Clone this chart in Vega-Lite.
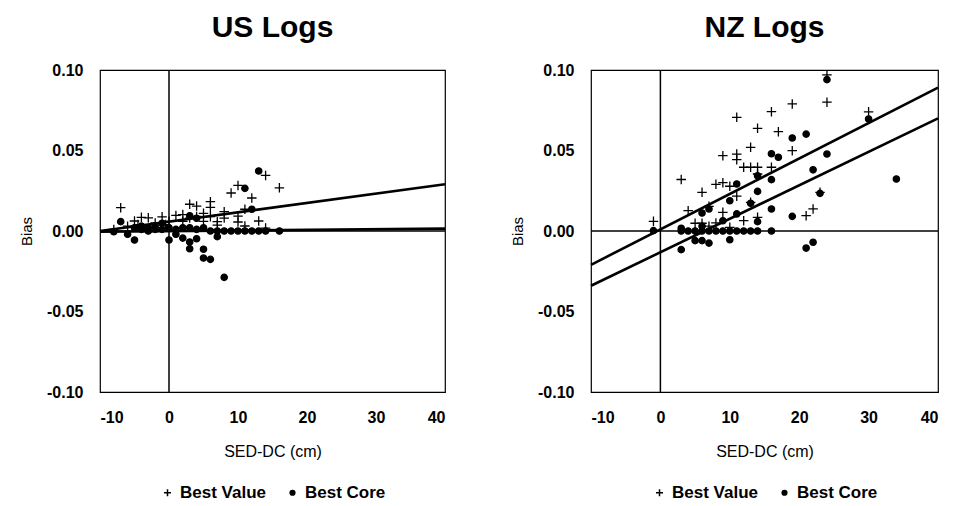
{
  "$schema": "https://vega.github.io/schema/vega-lite/v6.json",
  "background": "white",
  "padding": {"left": 18, "top": 12, "right": 5, "bottom": 5},
  "datasets": {
    "pts": [
      {"panel":"US","series":"Best Value","x":-8,"bias":0.001},
      {"panel":"US","series":"Best Value","x":-7,"bias":0.0145},
      {"panel":"US","series":"Best Value","x":-6,"bias":0.003},
      {"panel":"US","series":"Best Value","x":-5,"bias":0.0062},
      {"panel":"US","series":"Best Value","x":-4.5,"bias":0.004},
      {"panel":"US","series":"Best Value","x":-4,"bias":0.0085},
      {"panel":"US","series":"Best Value","x":-3,"bias":0.0082},
      {"panel":"US","series":"Best Value","x":-2,"bias":0.005},
      {"panel":"US","series":"Best Value","x":-1,"bias":0.0088},
      {"panel":"US","series":"Best Value","x":-0.5,"bias":0.004},
      {"panel":"US","series":"Best Value","x":0,"bias":0.006},
      {"panel":"US","series":"Best Value","x":1,"bias":0.0097},
      {"panel":"US","series":"Best Value","x":2,"bias":0.0102},
      {"panel":"US","series":"Best Value","x":2,"bias":0.006},
      {"panel":"US","series":"Best Value","x":3,"bias":0.0166},
      {"panel":"US","series":"Best Value","x":3,"bias":0.008},
      {"panel":"US","series":"Best Value","x":4,"bias":0.0155},
      {"panel":"US","series":"Best Value","x":4,"bias":0.009},
      {"panel":"US","series":"Best Value","x":5,"bias":0.011},
      {"panel":"US","series":"Best Value","x":5,"bias":0.006},
      {"panel":"US","series":"Best Value","x":6,"bias":0.0182},
      {"panel":"US","series":"Best Value","x":6,"bias":0.0147},
      {"panel":"US","series":"Best Value","x":6,"bias":0.0089},
      {"panel":"US","series":"Best Value","x":7,"bias":0.0058},
      {"panel":"US","series":"Best Value","x":7,"bias":0.0037},
      {"panel":"US","series":"Best Value","x":8,"bias":0.012},
      {"panel":"US","series":"Best Value","x":8,"bias":0.008},
      {"panel":"US","series":"Best Value","x":9,"bias":0.0236},
      {"panel":"US","series":"Best Value","x":10,"bias":0.0283},
      {"panel":"US","series":"Best Value","x":10,"bias":0.0093},
      {"panel":"US","series":"Best Value","x":10,"bias":0.0056},
      {"panel":"US","series":"Best Value","x":11,"bias":0.0135},
      {"panel":"US","series":"Best Value","x":11,"bias":0.0031},
      {"panel":"US","series":"Best Value","x":12,"bias":0.0205},
      {"panel":"US","series":"Best Value","x":13,"bias":0.0062},
      {"panel":"US","series":"Best Value","x":14,"bias":0.0345},
      {"panel":"US","series":"Best Value","x":14,"bias":0.0018},
      {"panel":"US","series":"Best Value","x":16,"bias":0.0268},
      {"panel":"US","series":"Best Core","x":-8,"bias":-0.0005},
      {"panel":"US","series":"Best Core","x":-7,"bias":0.0058},
      {"panel":"US","series":"Best Core","x":-6,"bias":-0.002},
      {"panel":"US","series":"Best Core","x":-5,"bias":-0.0056},
      {"panel":"US","series":"Best Core","x":-5,"bias":0.002},
      {"panel":"US","series":"Best Core","x":-4,"bias":0.001},
      {"panel":"US","series":"Best Core","x":-4,"bias":0.003},
      {"panel":"US","series":"Best Core","x":-3,"bias":0.002},
      {"panel":"US","series":"Best Core","x":-3,"bias":0},
      {"panel":"US","series":"Best Core","x":-2,"bias":0.001},
      {"panel":"US","series":"Best Core","x":-2,"bias":0.003},
      {"panel":"US","series":"Best Core","x":-1,"bias":0.0048},
      {"panel":"US","series":"Best Core","x":-1,"bias":0.001},
      {"panel":"US","series":"Best Core","x":0,"bias":-0.0056},
      {"panel":"US","series":"Best Core","x":0,"bias":0.002},
      {"panel":"US","series":"Best Core","x":1,"bias":0.001},
      {"panel":"US","series":"Best Core","x":1,"bias":-0.002},
      {"panel":"US","series":"Best Core","x":2,"bias":-0.0044},
      {"panel":"US","series":"Best Core","x":2,"bias":0.002},
      {"panel":"US","series":"Best Core","x":3,"bias":0.0095},
      {"panel":"US","series":"Best Core","x":3,"bias":-0.0068},
      {"panel":"US","series":"Best Core","x":3,"bias":-0.011},
      {"panel":"US","series":"Best Core","x":3,"bias":0.002},
      {"panel":"US","series":"Best Core","x":4,"bias":-0.0048},
      {"panel":"US","series":"Best Core","x":4,"bias":0.0079},
      {"panel":"US","series":"Best Core","x":4,"bias":0.001},
      {"panel":"US","series":"Best Core","x":5,"bias":-0.0113},
      {"panel":"US","series":"Best Core","x":5,"bias":-0.0168},
      {"panel":"US","series":"Best Core","x":5,"bias":0.002},
      {"panel":"US","series":"Best Core","x":6,"bias":-0.0176},
      {"panel":"US","series":"Best Core","x":6,"bias":0},
      {"panel":"US","series":"Best Core","x":7,"bias":0},
      {"panel":"US","series":"Best Core","x":7,"bias":-0.0035},
      {"panel":"US","series":"Best Core","x":8,"bias":-0.0288},
      {"panel":"US","series":"Best Core","x":8,"bias":0},
      {"panel":"US","series":"Best Core","x":9,"bias":0},
      {"panel":"US","series":"Best Core","x":10,"bias":0},
      {"panel":"US","series":"Best Core","x":11,"bias":0.0265},
      {"panel":"US","series":"Best Core","x":11,"bias":0},
      {"panel":"US","series":"Best Core","x":12,"bias":0.0135},
      {"panel":"US","series":"Best Core","x":12,"bias":0},
      {"panel":"US","series":"Best Core","x":13,"bias":0.0373},
      {"panel":"US","series":"Best Core","x":13,"bias":0},
      {"panel":"US","series":"Best Core","x":14,"bias":0},
      {"panel":"US","series":"Best Core","x":16,"bias":0},
      {"panel":"NZ","series":"Best Value","x":-1,"bias":0.006},
      {"panel":"NZ","series":"Best Value","x":3,"bias":0.032},
      {"panel":"NZ","series":"Best Value","x":4,"bias":0.0126},
      {"panel":"NZ","series":"Best Value","x":5,"bias":0.0048},
      {"panel":"NZ","series":"Best Value","x":6,"bias":0.024},
      {"panel":"NZ","series":"Best Value","x":6,"bias":0.0048},
      {"panel":"NZ","series":"Best Value","x":7,"bias":0.0153},
      {"panel":"NZ","series":"Best Value","x":7,"bias":0.003},
      {"panel":"NZ","series":"Best Value","x":8,"bias":0.029},
      {"panel":"NZ","series":"Best Value","x":8,"bias":0.005},
      {"panel":"NZ","series":"Best Value","x":9,"bias":0.030},
      {"panel":"NZ","series":"Best Value","x":9,"bias":0.0468},
      {"panel":"NZ","series":"Best Value","x":9,"bias":0.0116},
      {"panel":"NZ","series":"Best Value","x":10,"bias":0.0278},
      {"panel":"NZ","series":"Best Value","x":10,"bias":0.0023},
      {"panel":"NZ","series":"Best Value","x":11,"bias":0.0478},
      {"panel":"NZ","series":"Best Value","x":11,"bias":0.0443},
      {"panel":"NZ","series":"Best Value","x":11,"bias":0.0706},
      {"panel":"NZ","series":"Best Value","x":11,"bias":0.0216},
      {"panel":"NZ","series":"Best Value","x":12,"bias":0.0396},
      {"panel":"NZ","series":"Best Value","x":12,"bias":0.0064},
      {"panel":"NZ","series":"Best Value","x":13,"bias":0.052},
      {"panel":"NZ","series":"Best Value","x":13,"bias":0.0396},
      {"panel":"NZ","series":"Best Value","x":13,"bias":0.0178},
      {"panel":"NZ","series":"Best Value","x":14,"bias":0.0638},
      {"panel":"NZ","series":"Best Value","x":14,"bias":0.0396},
      {"panel":"NZ","series":"Best Value","x":14,"bias":0.0354},
      {"panel":"NZ","series":"Best Value","x":14,"bias":0.0085},
      {"panel":"NZ","series":"Best Value","x":16,"bias":0.0741},
      {"panel":"NZ","series":"Best Value","x":16,"bias":0.0396},
      {"panel":"NZ","series":"Best Value","x":17,"bias":0.0617},
      {"panel":"NZ","series":"Best Value","x":19,"bias":0.0499},
      {"panel":"NZ","series":"Best Value","x":19,"bias":0.0789},
      {"panel":"NZ","series":"Best Value","x":21,"bias":0.0095},
      {"panel":"NZ","series":"Best Value","x":22,"bias":0.0137},
      {"panel":"NZ","series":"Best Value","x":23,"bias":0.024},
      {"panel":"NZ","series":"Best Value","x":24,"bias":0.08},
      {"panel":"NZ","series":"Best Value","x":24,"bias":0.097},
      {"panel":"NZ","series":"Best Value","x":30,"bias":0.074},
      {"panel":"NZ","series":"Best Core","x":-1,"bias":0.0002},
      {"panel":"NZ","series":"Best Core","x":3,"bias":0.0017},
      {"panel":"NZ","series":"Best Core","x":3,"bias":0},
      {"panel":"NZ","series":"Best Core","x":3,"bias":-0.0116},
      {"panel":"NZ","series":"Best Core","x":4,"bias":0},
      {"panel":"NZ","series":"Best Core","x":5,"bias":0},
      {"panel":"NZ","series":"Best Core","x":5,"bias":-0.006},
      {"panel":"NZ","series":"Best Core","x":6,"bias":-0.006},
      {"panel":"NZ","series":"Best Core","x":6,"bias":0.0112},
      {"panel":"NZ","series":"Best Core","x":6,"bias":0.003},
      {"panel":"NZ","series":"Best Core","x":6,"bias":0},
      {"panel":"NZ","series":"Best Core","x":7,"bias":-0.0075},
      {"panel":"NZ","series":"Best Core","x":7,"bias":0.0137},
      {"panel":"NZ","series":"Best Core","x":7,"bias":0},
      {"panel":"NZ","series":"Best Core","x":8,"bias":0},
      {"panel":"NZ","series":"Best Core","x":9,"bias":0.0064},
      {"panel":"NZ","series":"Best Core","x":9,"bias":0},
      {"panel":"NZ","series":"Best Core","x":10,"bias":0.0188},
      {"panel":"NZ","series":"Best Core","x":10,"bias":-0.0054},
      {"panel":"NZ","series":"Best Core","x":10,"bias":0},
      {"panel":"NZ","series":"Best Core","x":11,"bias":0.0292},
      {"panel":"NZ","series":"Best Core","x":11,"bias":0.0106},
      {"panel":"NZ","series":"Best Core","x":11,"bias":0},
      {"panel":"NZ","series":"Best Core","x":12,"bias":0},
      {"panel":"NZ","series":"Best Core","x":13,"bias":0.0172},
      {"panel":"NZ","series":"Best Core","x":13,"bias":0},
      {"panel":"NZ","series":"Best Core","x":14,"bias":0.0246},
      {"panel":"NZ","series":"Best Core","x":14,"bias":0.0343},
      {"panel":"NZ","series":"Best Core","x":14,"bias":0.0058},
      {"panel":"NZ","series":"Best Core","x":14,"bias":0},
      {"panel":"NZ","series":"Best Core","x":16,"bias":0.0319},
      {"panel":"NZ","series":"Best Core","x":16,"bias":0.0137},
      {"panel":"NZ","series":"Best Core","x":16,"bias":0},
      {"panel":"NZ","series":"Best Core","x":16,"bias":0.048},
      {"panel":"NZ","series":"Best Core","x":17,"bias":0.0458},
      {"panel":"NZ","series":"Best Core","x":19,"bias":0.0578},
      {"panel":"NZ","series":"Best Core","x":19,"bias":0.0091},
      {"panel":"NZ","series":"Best Core","x":21,"bias":0.0602},
      {"panel":"NZ","series":"Best Core","x":21,"bias":-0.0106},
      {"panel":"NZ","series":"Best Core","x":22,"bias":-0.007},
      {"panel":"NZ","series":"Best Core","x":22,"bias":0.038},
      {"panel":"NZ","series":"Best Core","x":23,"bias":0.0234},
      {"panel":"NZ","series":"Best Core","x":24,"bias":0.094},
      {"panel":"NZ","series":"Best Core","x":24,"bias":0.0478},
      {"panel":"NZ","series":"Best Core","x":30,"bias":0.0696},
      {"panel":"NZ","series":"Best Core","x":34,"bias":0.0323}
    ],
    "fits": [
      {"panel":"US","fit":"Best Value","x":-10,"bias":0.0},
      {"panel":"US","fit":"Best Value","x":40,"bias":0.029},
      {"panel":"US","fit":"Best Core","x":-10,"bias":-0.0005},
      {"panel":"US","fit":"Best Core","x":40,"bias":0.0015},
      {"panel":"NZ","fit":"Best Value","x":-10,"bias":-0.021},
      {"panel":"NZ","fit":"Best Value","x":40,"bias":0.089},
      {"panel":"NZ","fit":"Best Core","x":-10,"bias":-0.034},
      {"panel":"NZ","fit":"Best Core","x":40,"bias":0.070}
    ]
  },
  "spacing": 58,
  "hconcat": [
    {
      "title": "US Logs",
      "width": 345,
      "height": 322,
      "layer": [
        {
          "data": {"values": [{}]},
          "mark": {"type": "rule", "color": "black", "strokeWidth": 1.5},
          "encoding": {"x": {"datum": 0, "type": "quantitative"}}
        },
        {
          "data": {"values": [{}]},
          "mark": {"type": "rule", "color": "black", "strokeWidth": 1.5},
          "encoding": {"y": {"datum": 0, "type": "quantitative"}}
        },
        {
          "data": {"name": "fits"},
          "transform": [{"filter": "datum.panel === 'US'"}],
          "mark": {"type": "line", "color": "black", "strokeWidth": 2.6},
          "encoding": {
            "x": {"field": "x", "type": "quantitative"},
            "y": {"field": "bias", "type": "quantitative"},
            "detail": {"field": "fit"}
          }
        },
        {
          "data": {"name": "pts"},
          "transform": [{"filter": "datum.panel === 'US'"}],
          "mark": {"type": "point", "filled": true, "color": "black", "stroke": "black", "strokeWidth": 1.3, "opacity": 1, "size": 40},
          "encoding": {
            "x": {"field": "x", "type": "quantitative", "scale": {"domain": [-10, 40], "nice": false},
                  "axis": {"title": "SED-DC (cm)", "values": [-10, 0, 10, 20, 30, 40], "labelExpr": "replace(format(datum.value, 'd'), '\u2212', '-')"}},
            "y": {"field": "bias", "type": "quantitative", "scale": {"domain": [-0.1, 0.1], "nice": false},
                  "axis": {"title": "Bias", "values": [-0.1, -0.05, 0, 0.05, 0.1], "labelExpr": "replace(format(datum.value, '.2f'), '\u2212', '-')"}},
            "shape": {"field": "series", "type": "nominal",
                      "scale": {"domain": ["Best Value", "Best Core"], "range": ["M-1.5,0L1.5,0M0,-1.5L0,1.5", "circle"]},
                      "legend": {"title": null, "orient": "none", "legendX": 59, "legendY": 414, "direction": "horizontal",
                                 "encode": {"symbols": {"update": {"stroke": {"value": "black"}, "fill": {"value": "black"}, "strokeWidth": {"value": 1.2}, "opacity": {"value": 1}}}}}}
          }
        }
      ]
    },
    {
      "title": "NZ Logs",
      "width": 347,
      "height": 322,
      "layer": [
        {
          "data": {"values": [{}]},
          "mark": {"type": "rule", "color": "black", "strokeWidth": 1.5},
          "encoding": {"x": {"datum": 0, "type": "quantitative"}}
        },
        {
          "data": {"values": [{}]},
          "mark": {"type": "rule", "color": "black", "strokeWidth": 1.5},
          "encoding": {"y": {"datum": 0, "type": "quantitative"}}
        },
        {
          "data": {"name": "fits"},
          "transform": [{"filter": "datum.panel === 'NZ'"}],
          "mark": {"type": "line", "color": "black", "strokeWidth": 2.6},
          "encoding": {
            "x": {"field": "x", "type": "quantitative"},
            "y": {"field": "bias", "type": "quantitative"},
            "detail": {"field": "fit"}
          }
        },
        {
          "data": {"name": "pts"},
          "transform": [{"filter": "datum.panel === 'NZ'"}],
          "mark": {"type": "point", "filled": true, "color": "black", "stroke": "black", "strokeWidth": 1.3, "opacity": 1, "size": 40},
          "encoding": {
            "x": {"field": "x", "type": "quantitative", "scale": {"domain": [-10, 40], "nice": false},
                  "axis": {"title": "SED-DC (cm)", "values": [-10, 0, 10, 20, 30, 40], "labelExpr": "replace(format(datum.value, 'd'), '\u2212', '-')"}},
            "y": {"field": "bias", "type": "quantitative", "scale": {"domain": [-0.1, 0.1], "nice": false},
                  "axis": {"title": "Bias", "values": [-0.1, -0.05, 0, 0.05, 0.1], "labelExpr": "replace(format(datum.value, '.2f'), '\u2212', '-')"}},
            "shape": {"field": "series", "type": "nominal",
                      "scale": {"domain": ["Best Value", "Best Core"], "range": ["M-1.5,0L1.5,0M0,-1.5L0,1.5", "circle"]},
                      "legend": {"title": null, "orient": "none", "legendX": 60, "legendY": 414, "direction": "horizontal",
                                 "encode": {"symbols": {"update": {"stroke": {"value": "black"}, "fill": {"value": "black"}, "strokeWidth": {"value": 1.2}, "opacity": {"value": 1}}}}}}
          }
        }
      ]
    }
  ],
  "resolve": {
    "scale": {"shape": "independent", "x": "independent", "y": "independent"},
    "legend": {"shape": "independent"}
  },
  "config": {
    "font": "Liberation Sans",
    "view": {"stroke": "black", "strokeWidth": 1.2},
    "axis": {
      "domain": false,
      "ticks": false,
      "grid": false,
      "labelFont": "Liberation Sans",
      "labelFontWeight": "bold",
      "labelFontSize": 16,
      "labelColor": "black",
      "titleFont": "Liberation Sans",
      "titleFontWeight": "normal",
      "titleFontSize": 15,
      "titleColor": "black"
    },
    "axisY": {"labelPadding": 17, "titlePadding": 12},
    "axisX": {"labelPadding": 17, "titlePadding": 18, "titleFontSize": 16},
    "legend": {
      "labelFont": "Liberation Sans",
      "labelFontWeight": "bold",
      "labelFontSize": 17,
      "labelColor": "black",
      "symbolSize": 22,
      "columnPadding": 18
    },
    "title": {
      "font": "Liberation Sans",
      "fontSize": 30,
      "fontWeight": "bold",
      "color": "black",
      "anchor": "middle",
      "offset": 19
    }
  }
}
